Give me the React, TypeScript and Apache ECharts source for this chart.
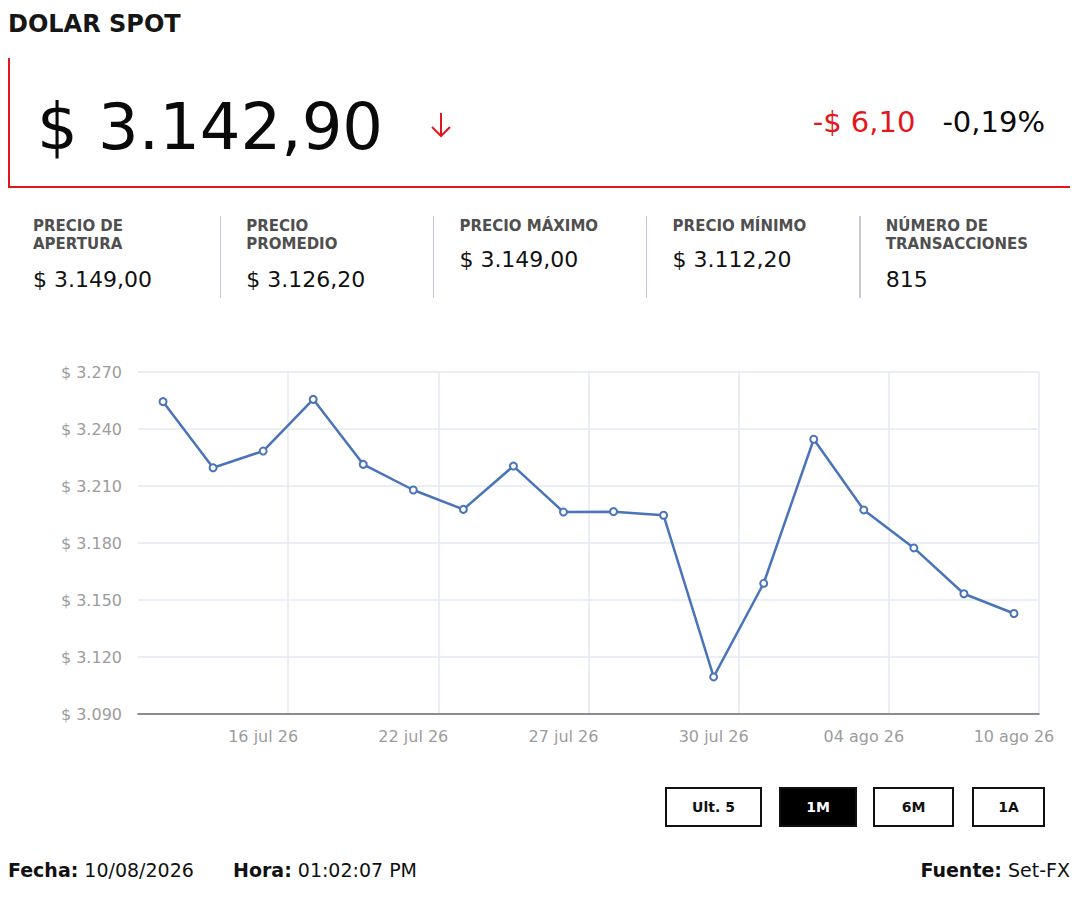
import { useEffect, useRef } from "react";
import * as echarts from "echarts";

// trading days shown on the 1M view
const dates = [
  "14 jul 26", "15 jul 26", "16 jul 26", "17 jul 26", "21 jul 26", "22 jul 26",
  "23 jul 26", "24 jul 26", "27 jul 26", "28 jul 26", "29 jul 26", "30 jul 26",
  "31 jul 26", "03 ago 26", "04 ago 26", "05 ago 26", "06 ago 26", "10 ago 26",
];
const prices = [
  3254.4, 3219.6, 3228.4, 3255.6, 3221.4, 3207.9, 3197.7, 3220.5, 3196.3,
  3196.5, 3194.6, 3109.5, 3158.8, 3234.6, 3197.4, 3177.4, 3153.3, 3142.9,
];
const yMin = 3090;
const yMax = 3270;
const yStep = 30;

const statLabels = [
  ["PRECIO DE", "APERTURA"],
  ["PRECIO", "PROMEDIO"],
  ["PRECIO MÁXIMO"],
  ["PRECIO MÍNIMO"],
  ["NÚMERO DE", "TRANSACCIONES"],
];
const statValues = ["$ 3.149,00", "$ 3.126,20", "$ 3.149,00", "$ 3.112,20", "815"];
const ranges = ["Ult. 5", "1M", "6M", "1A"];
const activeRange = "1M";

const RED = "#e3161d";
const FONT = "'DejaVu Sans', sans-serif";

const thousands = (v: number) =>
  "$ " + String(Math.round(v)).replace(/\B(?=(\d{3})+(?!\d))/g, ".");

function PriceChart() {
  const ref = useRef<HTMLDivElement>(null);

  useEffect(() => {
    if (!ref.current) return;
    const chart = echarts.init(ref.current, undefined, { renderer: "svg" });
    chart.setOption({
      animation: false,
      grid: { left: 138, right: 41, top: 42, bottom: 56 },
      xAxis: {
        type: "category",
        data: dates,
        boundaryGap: true,
        axisLine: { lineStyle: { color: "#6b6b6b", width: 1.5 } },
        axisTick: {
          alignWithLabel: true,
          length: 6,
          interval: (i: number) => i % 3 === 2,
          lineStyle: { color: "#6b6b6b", width: 1.5 },
        },
        axisLabel: {
          interval: (i: number) => i % 3 === 2,
          color: "#9c9c9c",
          fontFamily: FONT,
          fontSize: 16,
          margin: 14,
        },
        splitLine: {
          show: true,
          interval: (i: number) => i % 3 === 0 && i > 0,
          lineStyle: { color: "#e4e9f3", width: 1.5 },
        },
      },
      yAxis: {
        type: "value",
        min: yMin,
        max: yMax,
        interval: yStep,
        axisLine: { show: false },
        axisTick: { show: false },
        axisLabel: {
          color: "#9c9c9c",
          fontFamily: FONT,
          fontSize: 16,
          margin: 16,
          formatter: (v: number) => thousands(v),
        },
        splitLine: { lineStyle: { color: "#e4e9f3", width: 1.5 } },
      },
      series: [
        {
          type: "line",
          data: prices,
          symbol: "emptyCircle",
          symbolSize: 7,
          lineStyle: { color: "#4a74b9", width: 2.5 },
          itemStyle: { color: "#4a74b9", borderWidth: 2 },
        },
      ],
    });
    return () => chart.dispose();
  }, []);

  return (
    <div
      ref={ref}
      style={{ position: "absolute", left: 0, top: 330, width: 1080, height: 440 }}
    />
  );
}

export default function App() {
  useEffect(() => {
    document.body.style.margin = "0";
  }, []);

  const colW = 213.2;

  return (
    <div
      style={{
        position: "relative",
        width: 1080,
        height: 900,
        overflow: "hidden",
        background: "#fff",
        fontFamily: FONT,
        color: "#111",
      }}
    >
      <div
        style={{
          position: "absolute", left: 8, top: 12, fontSize: 24, lineHeight: "24px",
          fontWeight: "bold", color: "#161616",
        }}
      >
        DOLAR SPOT
      </div>

      {/* red frame round the quote */}
      <div
        style={{
          position: "absolute", left: 8, top: 58, width: 1060, height: 128,
          borderLeft: `2px solid ${RED}`, borderBottom: `2px solid ${RED}`,
        }}
      />
      <div
        style={{
          position: "absolute", left: 37, top: 95, fontSize: 64, lineHeight: "64px",
          color: "#0a0a0a",
        }}
      >
        $ 3.142,90
      </div>
      <svg
        style={{ position: "absolute", left: 428, top: 110 }}
        width={26}
        height={30}
      >
        <line x1={13} y1={3} x2={13} y2={26} stroke={RED} strokeWidth={2} />
        <polyline points="4,17 13,26 22,17" fill="none" stroke={RED} strokeWidth={2} />
      </svg>
      <div
        style={{
          position: "absolute", right: 35, top: 108, fontSize: 29, lineHeight: "29px",
          display: "flex", gap: 27,
        }}
      >
        <span style={{ color: RED }}>-$ 6,10</span>
        <span style={{ color: "#0a0a0a" }}>-0,19%</span>
      </div>

      {/* day statistics */}
      {statLabels.map((lines, i) => (
        <div key={i}>
          <div
            style={{
              position: "absolute", left: 33 + colW * i, top: 217,
              fontSize: 15, lineHeight: "18px", fontWeight: "bold", color: "#4f4f4f",
            }}
          >
            {lines.map((l) => (
              <div key={l}>{l}</div>
            ))}
          </div>
          <div
            style={{
              position: "absolute", left: 33 + colW * i,
              top: lines.length === 2 ? 268.5 : 249,
              fontSize: 22, lineHeight: "22px", color: "#111",
            }}
          >
            {statValues[i]}
          </div>
          {i < statLabels.length - 1 && (
            <div
              style={{
                position: "absolute", left: 219.5 + colW * i, top: 216, width: 1.5,
                height: 82, background: "#c6c8d8",
              }}
            />
          )}
        </div>
      ))}

      <PriceChart />

      {/* range selector */}
      {ranges.map((r, i) => {
        const lefts = [665, 779, 873, 972];
        const widths = [97, 78, 81, 73];
        const on = r === activeRange;
        return (
          <div
            key={r}
            style={{
              position: "absolute", left: lefts[i], top: 787, width: widths[i], height: 40,
              boxSizing: "border-box", border: "2px solid #111",
              background: on ? "#000" : "#fff", color: on ? "#fff" : "#111",
              display: "flex", alignItems: "center", justifyContent: "center",
              fontSize: 14, fontWeight: "bold",
            }}
          >
            {r}
          </div>
        );
      })}

      {/* footer */}
      <div style={{ position: "absolute", left: 8, top: 861, fontSize: 19, lineHeight: "19px" }}>
        <b>Fecha:</b> 10/08/2026
      </div>
      <div style={{ position: "absolute", left: 233, top: 861, fontSize: 19, lineHeight: "19px" }}>
        <b>Hora:</b> 01:02:07 PM
      </div>
      <div style={{ position: "absolute", right: 10, top: 861, fontSize: 19, lineHeight: "19px" }}>
        <b>Fuente:</b> Set-FX
      </div>
    </div>
  );
}
